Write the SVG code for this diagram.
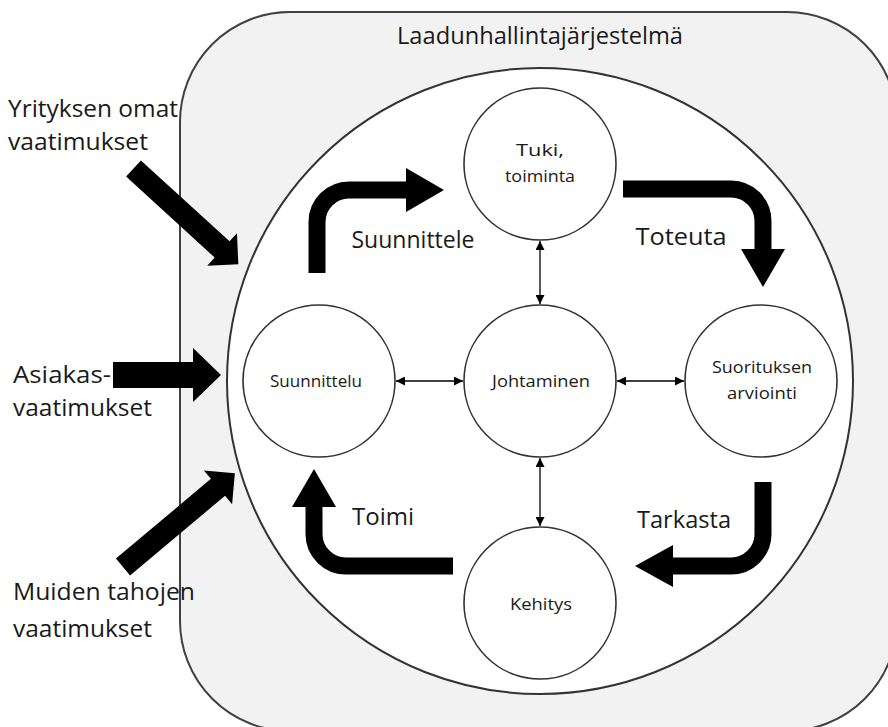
<svg xmlns="http://www.w3.org/2000/svg" width="888" height="727" viewBox="0 0 888 727">
<style>
  text { font-family: "Open Sans", "Liberation Sans", sans-serif; fill: #1a1a1a; }
  .big { font-size: 23.5px; }
  .small { font-size: 16.5px; }
  .node { fill: #ffffff; stroke: #333333; stroke-width: 1.6; }
  .bend { fill: none; stroke: #000000; stroke-width: 17; }
  .head { fill: #000000; }
  .thin { fill: none; stroke: #000000; stroke-width: 1.3; marker-start: url(#m); marker-end: url(#m); }
</style>
<defs>
  <marker id="m" viewBox="0 0 10 10" refX="10" refY="5" markerWidth="9" markerHeight="9" markerUnits="userSpaceOnUse" orient="auto-start-reverse">
    <path d="M0,0 L10,5 L0,10 Z" fill="#000"/>
  </marker>
</defs>
<rect width="888" height="727" fill="#ffffff"/>
<g id="system">
  <rect x="180" y="12" width="717" height="719" rx="110" ry="110" fill="#f2f2f2" stroke="#404040" stroke-width="2"/>
  <text class="big" x="540" y="44" text-anchor="middle" textLength="286" lengthAdjust="spacingAndGlyphs">Laadunhallintajärjestelmä</text>
  <circle cx="540" cy="381" r="313" fill="#ffffff" stroke="#333333" stroke-width="2"/>
</g>
<g id="inputs">
  <g id="input-yritys">
    <path class="head" transform="translate(133.5,168.5) rotate(42.4)" d="M0,-11 L120,-11 L120,-22 L142,0 L120,22 L120,11 L0,11 Z"/>
    <text class="big" x="8" y="117" textLength="170" lengthAdjust="spacingAndGlyphs">Yrityksen omat</text>
    <text class="big" x="8" y="150" textLength="140" lengthAdjust="spacingAndGlyphs">vaatimukset</text>
  </g>
  <g id="input-asiakas">
    <path class="head" d="M113,362 L193,362 L193,348 L221,375 L193,402 L193,388 L113,388 Z"/>
    <text class="big" x="13" y="383" textLength="98" lengthAdjust="spacingAndGlyphs">Asiakas-</text>
    <text class="big" x="13" y="416" textLength="139" lengthAdjust="spacingAndGlyphs">vaatimukset</text>
  </g>
  <g id="input-muut">
    <path class="head" transform="translate(123,567) rotate(-40)" d="M0,-11 L124,-11 L124,-22 L146,0 L124,22 L124,11 L0,11 Z"/>
    <text class="big" x="13" y="600" textLength="182" lengthAdjust="spacingAndGlyphs">Muiden tahojen</text>
    <text class="big" x="13" y="637" textLength="139" lengthAdjust="spacingAndGlyphs">vaatimukset</text>
  </g>
</g>
<g id="connectors">
  <line class="thin" x1="396" y1="381" x2="463" y2="381"/>
  <line class="thin" x1="617" y1="381" x2="684" y2="381"/>
  <line class="thin" x1="540" y1="241" x2="540" y2="304"/>
  <line class="thin" x1="540" y1="458" x2="540" y2="526"/>
</g>
<g id="cycle">
  <g id="arrow-suunnittele">
    <path class="bend" d="M317,273 L317,222 A32,32 0 0 1 349,190 L408,190"/>
    <polygon class="head" points="406,168 444,190 406,212"/>
    <text class="big" x="413" y="248" text-anchor="middle" textLength="123" lengthAdjust="spacingAndGlyphs">Suunnittele</text>
  </g>
  <g id="arrow-toteuta">
    <path class="bend" d="M623,189 L731,189 A32,32 0 0 1 763,221 L763,251"/>
    <polygon class="head" points="741,249 785,249 763,287"/>
    <text class="big" x="681" y="245" text-anchor="middle" textLength="91" lengthAdjust="spacingAndGlyphs">Toteuta</text>
  </g>
  <g id="arrow-tarkasta">
    <path class="bend" d="M763,482 L763,534 A32,32 0 0 1 731,566 L671,566"/>
    <polygon class="head" points="673,545 635,566 673,587"/>
    <text class="big" x="684" y="528" text-anchor="middle" textLength="94" lengthAdjust="spacingAndGlyphs">Tarkasta</text>
  </g>
  <g id="arrow-toimi">
    <path class="bend" d="M453,566 L346,566 A32,32 0 0 1 314,534 L314,505"/>
    <polygon class="head" points="292,507 336,507 314,469"/>
    <text class="big" x="383" y="525" text-anchor="middle" textLength="62" lengthAdjust="spacingAndGlyphs">Toimi</text>
  </g>
</g>
<g id="node-tuki">
  <circle class="node" cx="540" cy="164" r="76"/>
  <text class="small" x="540" y="156" text-anchor="middle" textLength="48" lengthAdjust="spacingAndGlyphs">Tuki,</text>
  <text class="small" x="540" y="182" text-anchor="middle" textLength="70" lengthAdjust="spacingAndGlyphs">toiminta</text>
</g>
<g id="node-suunnittelu">
  <circle class="node" cx="319" cy="381" r="76"/>
  <text class="small" x="316" y="387" text-anchor="middle" textLength="92" lengthAdjust="spacingAndGlyphs">Suunnittelu</text>
</g>
<g id="node-johtaminen">
  <circle class="node" cx="540" cy="381" r="76"/>
  <text class="small" x="541" y="387" text-anchor="middle" textLength="98" lengthAdjust="spacingAndGlyphs">Johtaminen</text>
</g>
<g id="node-suoritus">
  <circle class="node" cx="761" cy="381" r="76"/>
  <text class="small" x="762" y="373" text-anchor="middle" textLength="100" lengthAdjust="spacingAndGlyphs">Suorituksen</text>
  <text class="small" x="762" y="399" text-anchor="middle" textLength="70" lengthAdjust="spacingAndGlyphs">arviointi</text>
</g>
<g id="node-kehitys">
  <circle class="node" cx="540" cy="603" r="76"/>
  <text class="small" x="541" y="610" text-anchor="middle" textLength="62" lengthAdjust="spacingAndGlyphs">Kehitys</text>
</g>
</svg>
